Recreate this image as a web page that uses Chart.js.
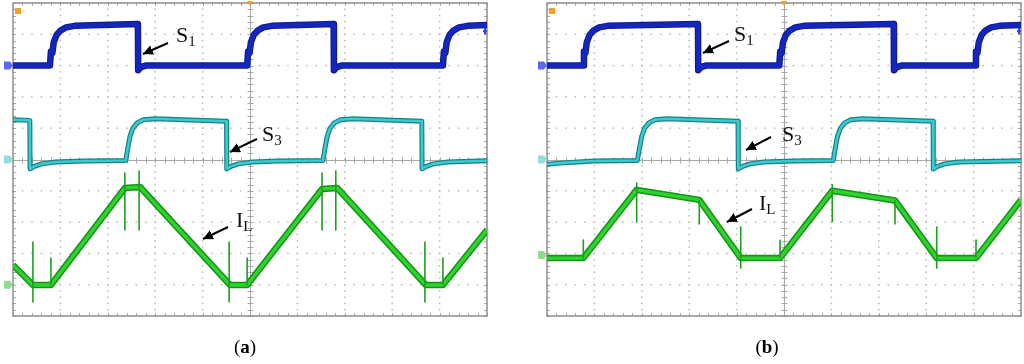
<!DOCTYPE html>
<html><head><meta charset="utf-8">
<script src="https://cdn.jsdelivr.net/npm/chart.js@4/dist/chart.umd.min.js"></script>
<style>
html,body{margin:0;padding:0;background:#fff;width:1024px;height:364px;overflow:hidden;position:relative;font-family:"Liberation Serif","Times New Roman",serif;}
.box{position:absolute;top:0;height:321px;}
.lbl{position:absolute;font-size:22px;line-height:22px;color:#111;white-space:nowrap;z-index:5;font-family:"Liberation Serif",serif;}
.lbl span{font-size:15px;position:relative;top:4px;}
.cap{position:absolute;width:100px;text-align:center;font-size:19px;line-height:19px;color:#000;z-index:5;}
svg{position:absolute;left:0;top:0;z-index:4;pointer-events:none;}
</style></head><body>
<div class="box" style="left:0;width:492px;"><canvas id="ca"></canvas></div>
<div class="box" style="left:534px;width:490px;"><canvas id="cb"></canvas></div>

<div class="lbl" style="left:176px;top:24px;">S<span>1</span></div>
<div class="lbl" style="left:262px;top:123px;">S<span>3</span></div>
<div class="lbl" style="left:236px;top:209px;">I<span>L</span></div>
<div class="lbl" style="left:734px;top:23px;">S<span>1</span></div>
<div class="lbl" style="left:782px;top:123px;">S<span>3</span></div>
<div class="lbl" style="left:759px;top:192px;">I<span>L</span></div>
<div class="cap" style="left:195px;top:337px;">(<b>a</b>)</div>
<div class="cap" style="left:717px;top:337px;">(<b>b</b>)</div>

<svg width="1024" height="364">
<defs><marker id="ah" markerUnits="userSpaceOnUse" markerWidth="12" markerHeight="10" refX="10" refY="5" orient="auto"><path d="M0,0 L10,5 L0,10 z" fill="#000"/></marker></defs>
<g stroke="#000" stroke-width="2" marker-end="url(#ah)">
<line x1="168" y1="43" x2="143" y2="54"/>
<line x1="257" y1="139" x2="230" y2="152"/>
<line x1="228" y1="227" x2="203" y2="239"/>
<line x1="729" y1="41" x2="703" y2="53"/>
<line x1="771" y1="137" x2="746" y2="150"/>
<line x1="752" y1="209" x2="727" y2="222"/>
</g></svg>

<script>
// ---------- Panel (a) data (x in divisions, y in divisions) ----------
const a_s1_x = [0,0.78,0.80,0.83,0.86,0.92,1.00,1.12,1.30,2.635,2.64,2.70,2.80,4.94,4.96,4.99,5.02,5.08,5.16,5.28,5.46,6.765,6.77,6.83,6.93,9.07,9.09,9.12,9.15,9.21,9.29,9.41,9.59,10];
const a_s1_y = [8.0,8.0,8.45,8.4,8.75,8.98,9.12,9.22,9.27,9.33,7.85,7.95,8.0,8.0,8.45,8.4,8.75,8.98,9.12,9.22,9.27,9.33,7.85,7.95,8.0,8.0,8.45,8.4,8.75,8.98,9.12,9.22,9.27,9.3];
const a_s3_x = [0,0.355,0.36,0.45,0.6,0.9,1.5,2.38,2.42,2.47,2.53,2.62,2.75,3.0,4.505,4.51,4.6,4.75,5.05,5.6,6.54,6.58,6.63,6.69,6.78,6.91,7.16,8.625,8.63,8.72,8.87,9.17,10];
const a_s3_y = [6.27,6.25,4.7,4.78,4.86,4.92,4.95,4.97,5.35,5.75,6.0,6.17,6.27,6.3,6.22,4.7,4.78,4.86,4.92,4.95,4.97,5.35,5.75,6.0,6.17,6.27,6.3,6.22,4.7,4.78,4.86,4.92,4.96];
const a_il_x = [0,0.42,0.80,2.36,2.68,4.58,4.94,6.52,6.84,8.71,9.07,10];
const a_il_y = [1.63,0.99,0.99,4.09,4.12,0.99,0.99,4.06,4.09,0.99,0.99,2.75];
const a_spk_x = [0.42,0.80,2.36,2.66,4.56,4.94,6.52,6.81,8.69,9.07];
const a_spk_top = [2.36,1.85,4.57,4.63,2.36,1.85,4.57,4.63,2.36,1.85];
const a_spk_bot = [0.45,0.99,2.75,2.75,0.45,0.99,2.75,2.75,0.45,0.99];
const a_markers = [8,5,1];

// ---------- Panel (b) data ----------
const b_s1_x = [0,0.76,0.78,0.81,0.84,0.90,0.98,1.10,1.28,3.185,3.19,3.25,3.35,4.90,4.92,4.95,4.98,5.04,5.12,5.24,5.42,7.315,7.32,7.38,7.48,9.03,9.05,9.08,9.11,9.17,9.25,9.37,9.55,10];
const b_s1_y = [8.0,8.0,8.45,8.4,8.75,8.98,9.12,9.22,9.27,9.33,7.85,7.95,8.0,8.0,8.45,8.4,8.75,8.98,9.12,9.22,9.27,9.33,7.85,7.95,8.0,8.0,8.45,8.4,8.75,8.98,9.12,9.22,9.27,9.3];
const b_s3_x = [0,0.4,1.0,1.905,1.95,2.0,2.06,2.15,2.28,2.53,4.03,4.036,4.13,4.28,4.58,5.2,6.04,6.08,6.13,6.19,6.28,6.41,6.66,8.145,8.15,8.24,8.39,8.69,10];
const b_s3_y = [4.85,4.9,4.95,4.97,5.35,5.75,6.0,6.17,6.27,6.3,6.22,4.7,4.78,4.86,4.92,4.95,4.97,5.35,5.75,6.0,6.17,6.27,6.3,6.22,4.7,4.78,4.86,4.92,4.96];
const b_il_x = [0,0.766,1.892,3.213,4.087,4.916,6.019,7.342,8.222,9.051,10];
const b_il_y = [1.85,1.85,4.03,3.71,1.85,1.85,4.0,3.69,1.85,1.85,3.71];
const b_spk_x = [0.766,1.892,3.213,4.087,4.916,6.019,7.342,8.222,9.051];
const b_spk_top = [2.43,4.25,3.71,2.84,2.42,4.19,3.69,2.84,2.43];
const b_spk_bot = [1.85,3.0,2.94,1.53,1.85,3.02,2.94,1.53,1.85];
const b_markers = [8,5,1.95];

const pts = (xs, ys) => xs.map((v, i) => ({x: v, y: ys[i]}));
const spikes = (xs, top, bot) => {
  const out = [];
  xs.forEach((v, i) => { out.push({x: v, y: top[i]}, {x: v, y: bot[i]}, {x: v, y: null}); });
  return out;
};
const line = (data, color, w, order) => ({data, order, borderColor: color, borderWidth: w, pointRadius: 0, tension: 0, fill: false, spanGaps: false, borderJoinStyle: 'round', borderCapStyle: 'butt'});

const scopePlugin = {
  id: 'scope',
  beforeDatasetsDraw(chart) {
    const {ctx, chartArea: a, scales: {x, y}} = chart;
    ctx.save();
    ctx.fillStyle = '#b8b8b8';
    for (let i = 1; i < 10; i++) {
      if (i === 5) continue;
      const px = x.getPixelForValue(i);
      for (let j = 0; j <= 50; j++) { const py = y.getPixelForValue(j / 5); ctx.fillRect(px - 0.75, py - 0.75, 1.5, 1.5); }
      const py = y.getPixelForValue(i);
      for (let j = 0; j <= 50; j++) { const qx = x.getPixelForValue(j / 5); ctx.fillRect(qx - 0.75, py - 0.75, 1.5, 1.5); }
    }
    const cx = Math.round(x.getPixelForValue(5)) + 0.5, cy = Math.round(y.getPixelForValue(5)) + 0.5;
    ctx.strokeStyle = '#a8a8a8'; ctx.lineWidth = 1;
    ctx.beginPath();
    ctx.moveTo(cx, a.top); ctx.lineTo(cx, a.bottom); ctx.moveTo(a.left, cy); ctx.lineTo(a.right, cy);
    for (let j = 0; j <= 50; j++) {
      const px = Math.round(x.getPixelForValue(j / 5)) + 0.5, py = Math.round(y.getPixelForValue(j / 5)) + 0.5;
      ctx.moveTo(px, cy - 3); ctx.lineTo(px, cy + 3);
      ctx.moveTo(cx - 3, py); ctx.lineTo(cx + 3, py);
      ctx.moveTo(px, a.top); ctx.lineTo(px, a.top + 3);
      ctx.moveTo(px, a.bottom); ctx.lineTo(px, a.bottom - 3);
      ctx.moveTo(a.left, py); ctx.lineTo(a.left + 3, py);
      ctx.moveTo(a.right, py); ctx.lineTo(a.right - 3, py);
    }
    ctx.stroke();
    ctx.strokeStyle = '#8e8e8e'; ctx.lineWidth = 1.5;
    ctx.strokeRect(a.left, a.top, a.right - a.left, a.bottom - a.top);
    ctx.restore();
  },
  afterDraw(chart) {
    const {ctx, chartArea: a, scales: {x, y}} = chart;
    const m = chart.options.plugins.scope.markers;
    const cols = ['#5a6af2', '#93dddd', '#93db93'];
    ctx.save();
    m.forEach((v, i) => {
      const py = y.getPixelForValue(v);
      ctx.fillStyle = cols[i];
      ctx.beginPath();
      ctx.moveTo(a.left - 9, py - 4); ctx.lineTo(a.left - 3, py - 4); ctx.lineTo(a.left, py);
      ctx.lineTo(a.left - 3, py + 4); ctx.lineTo(a.left - 9, py + 4); ctx.closePath(); ctx.fill();
    });
    ctx.fillStyle = '#f2a22a';
    ctx.fillRect(a.left + 2, a.top + 5, 6, 6);
    const cx = x.getPixelForValue(5);
    ctx.beginPath(); ctx.moveTo(cx - 3, a.top - 2); ctx.lineTo(cx + 3, a.top - 2); ctx.lineTo(cx, a.top + 3); ctx.closePath(); ctx.fill();
    ctx.fillStyle = '#3346e0';
    const ry = y.getPixelForValue(9.1);
    ctx.fillRect(a.right - 4, ry - 1, 4, 2); ctx.fillRect(a.right - 3, ry - 3, 2, 6);
    ctx.restore();
  }
};

function makeChart(id, s1, s3, il, spk, markers, padR) {
  return new Chart(document.getElementById(id), {
    type: 'line',
    data: {datasets: [
      line(s1, '#0d1890', 6.5, 70), line(s1, '#1526bd', 4.6, 60),
      line(s3, '#1a7f80', 5, 50), line(s3, '#38cbd2', 2.6, 40),
      line(il, '#159415', 6.5, 30), line(il, '#2fd22f', 3.4, 20),
      line(spk, '#1f9e1f', 1.6, 10)
    ]},
    options: {
      responsive: true, maintainAspectRatio: false, animation: false,
      layout: {padding: {left: 13, right: padR, top: 3, bottom: 5}},
      scales: {
        x: {type: 'linear', min: 0, max: 10, display: false},
        y: {type: 'linear', min: 0, max: 10, display: false}
      },
      plugins: {legend: {display: false}, tooltip: {enabled: false}, scope: {markers}}
    },
    plugins: [scopePlugin]
  });
}

makeChart('ca', pts(a_s1_x, a_s1_y), pts(a_s3_x, a_s3_y), pts(a_il_x, a_il_y), spikes(a_spk_x, a_spk_top, a_spk_bot), a_markers, 5);
makeChart('cb', pts(b_s1_x, b_s1_y), pts(b_s3_x, b_s3_y), pts(b_il_x, b_il_y), spikes(b_spk_x, b_spk_top, b_spk_bot), b_markers, 3);
</script>
</body></html>
